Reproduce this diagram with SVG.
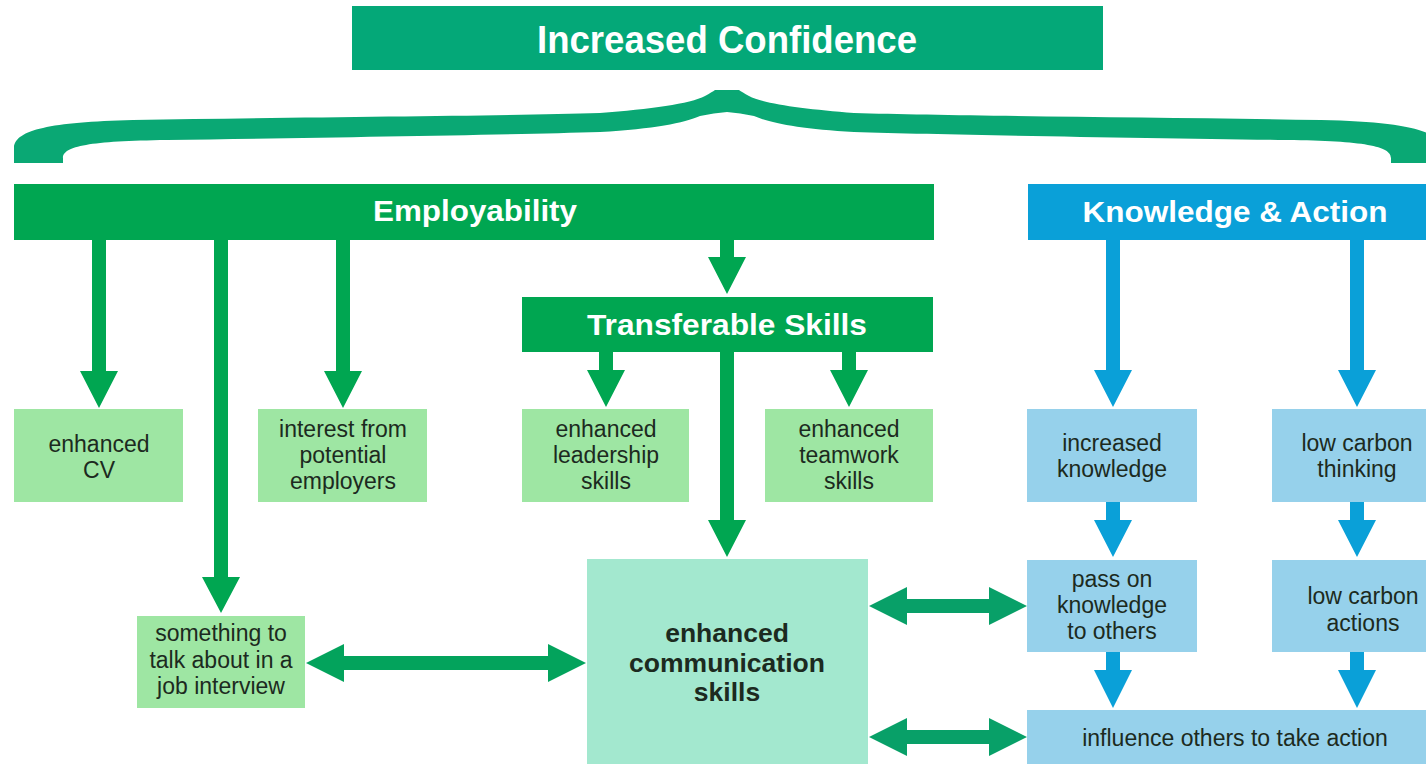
<svg xmlns="http://www.w3.org/2000/svg" width="1426" height="764" viewBox="0 0 1426 764">
<style>
.hdr{font-family:"Liberation Sans",Arial,sans-serif;font-weight:bold;fill:#ffffff;text-anchor:middle}
.lbl{font-family:"Liberation Sans",Arial,sans-serif;font-size:23px;fill:#1c2a20;text-anchor:middle}
.bold{font-family:"Liberation Sans",Arial,sans-serif;font-size:26.5px;font-weight:bold;fill:#1c2a20;text-anchor:middle}
.lg{fill:#9ee6a3}
.lb{fill:#96d1eb}
.ga{fill:#00a651}
.ba{fill:#0aa0d8}
.da{fill:#08a068}
</style>
<rect width="1426" height="764" fill="#ffffff"/>

<g id="title">
<rect x="352" y="6" width="751" height="64" fill="#04a878"/>
<text class="hdr" x="727" y="53" font-size="39" textLength="380" lengthAdjust="spacingAndGlyphs">Increased Confidence</text>
</g>

<g id="brace">
<path fill="#0aa874" d="M14,163 L14,147 C16,130 50,122 133,120 C300,117 500,116 600,113 C650,109 690,104 705,96 Q712,92 715,90 L739,90 Q742,92 749,96 C764,104 804,109 854,113 C954,116 1154,117 1321,120 C1404,122 1438,130 1440,147 L1440,163 L1391,163 L1391,158 C1391,146 1364,141 1287,140 C1150,138 950,135 854,132 C800,129 770,123 754,116 Q740,113 727,112 Q714,113 700,116 C684,123 654,129 600,132 C504,135 304,138 167,140 C90,141 63,146 63,158 L63,163 Z"/>
</g>

<g id="employability">
<rect x="14" y="184" width="920" height="56" fill="#00a651"/>
<text class="hdr" x="475" y="221" font-size="29" textLength="204" lengthAdjust="spacingAndGlyphs">Employability</text>
</g>

<g id="knowledge-action">
<rect x="1028" y="184" width="398" height="56" fill="#0aa0d8"/>
<text class="hdr" x="1235" y="222" font-size="29" textLength="305" lengthAdjust="spacingAndGlyphs">Knowledge &amp; Action</text>
</g>

<g id="transferable">
<rect x="522" y="297" width="411" height="55" fill="#00a651"/>
<text class="hdr" x="727" y="335" font-size="29" textLength="280" lengthAdjust="spacingAndGlyphs">Transferable Skills</text>
</g>

<g id="enhanced-cv">
<rect class="lg" x="14" y="409" width="169" height="93"/>
<text class="lbl" x="99" y="452">enhanced</text>
<text class="lbl" x="99" y="478">CV</text>
</g>

<g id="interest">
<rect class="lg" x="258" y="409" width="169" height="93"/>
<text class="lbl" x="343" y="437">interest from</text>
<text class="lbl" x="343" y="463">potential</text>
<text class="lbl" x="343" y="489">employers</text>
</g>

<g id="leadership">
<rect class="lg" x="522" y="409" width="167" height="93"/>
<text class="lbl" x="606" y="437">enhanced</text>
<text class="lbl" x="606" y="463">leadership</text>
<text class="lbl" x="606" y="489">skills</text>
</g>

<g id="teamwork">
<rect class="lg" x="765" y="409" width="168" height="93"/>
<text class="lbl" x="849" y="437">enhanced</text>
<text class="lbl" x="849" y="463">teamwork</text>
<text class="lbl" x="849" y="489">skills</text>
</g>

<g id="job-interview">
<rect class="lg" x="137" y="616" width="168" height="92"/>
<text class="lbl" x="221" y="641">something to</text>
<text class="lbl" x="221" y="668">talk about in a</text>
<text class="lbl" x="221" y="694">job interview</text>
</g>

<g id="communication">
<rect x="587" y="559" width="281" height="205" fill="#a3e8cf"/>
<text class="bold" x="727" y="642">enhanced</text>
<text class="bold" x="727" y="672">communication</text>
<text class="bold" x="727" y="701">skills</text>
</g>

<g id="increased-knowledge">
<rect class="lb" x="1027" y="409" width="170" height="93"/>
<text class="lbl" x="1112" y="451">increased</text>
<text class="lbl" x="1112" y="477">knowledge</text>
</g>

<g id="low-carbon-thinking">
<rect class="lb" x="1272" y="409" width="154" height="93"/>
<text class="lbl" x="1357" y="451">low carbon</text>
<text class="lbl" x="1357" y="477">thinking</text>
</g>

<g id="pass-on">
<rect class="lb" x="1027" y="560" width="170" height="92"/>
<text class="lbl" x="1112" y="587">pass on</text>
<text class="lbl" x="1112" y="613">knowledge</text>
<text class="lbl" x="1112" y="639">to others</text>
</g>

<g id="low-carbon-actions">
<rect class="lb" x="1272" y="560" width="154" height="92"/>
<text class="lbl" x="1363" y="604">low carbon</text>
<text class="lbl" x="1363" y="631">actions</text>
</g>

<g id="influence">
<rect class="lb" x="1027" y="710" width="399" height="54"/>
<text class="lbl" x="1235" y="746">influence others to take action</text>
</g>

<g id="connectors">
<polygon class="ga" points="92,240 106,240 106,371 118,371 99,408 80,371 92,371"/>
<polygon class="ga" points="214,240 228,240 228,577 240,577 221,613 202,577 214,577"/>
<polygon class="ga" points="336,240 350,240 350,371 362,371 343,408 324,371 336,371"/>
<polygon class="ga" points="720,240 734,240 734,257 746,257 727,294 708,257 720,257"/>
<polygon class="ga" points="599,352 613,352 613,370 625,370 606,407 587,370 599,370"/>
<polygon class="ga" points="842,352 856,352 856,370 868,370 849,407 830,370 842,370"/>
<polygon class="ga" points="720,352 734,352 734,520 746,520 727,557 708,520 720,520"/>

<polygon class="ba" points="1106,240 1120,240 1120,370 1132,370 1113,407 1094,370 1106,370"/>
<polygon class="ba" points="1350,240 1364,240 1364,370 1376,370 1357,407 1338,370 1350,370"/>
<polygon class="ba" points="1106,502 1120,502 1120,520 1132,520 1113,557 1094,520 1106,520"/>
<polygon class="ba" points="1350,502 1364,502 1364,520 1376,520 1357,557 1338,520 1350,520"/>
<polygon class="ba" points="1106,652 1120,652 1120,670 1132,670 1113,708 1094,670 1106,670"/>
<polygon class="ba" points="1350,652 1364,652 1364,670 1376,670 1357,708 1338,670 1350,670"/>

<polygon fill="#03a35c" points="306,663 344,644 344,656 548,656 548,644 586,663 548,682 548,670 344,670 344,682"/>
<polygon class="da" points="869,606 907,587 907,599 989,599 989,587 1027,606 989,625 989,613 907,613 907,625"/>
<polygon class="da" points="869,737 907,718 907,730 989,730 989,718 1027,737 989,756 989,744 907,744 907,756"/>
</g>
</svg>
